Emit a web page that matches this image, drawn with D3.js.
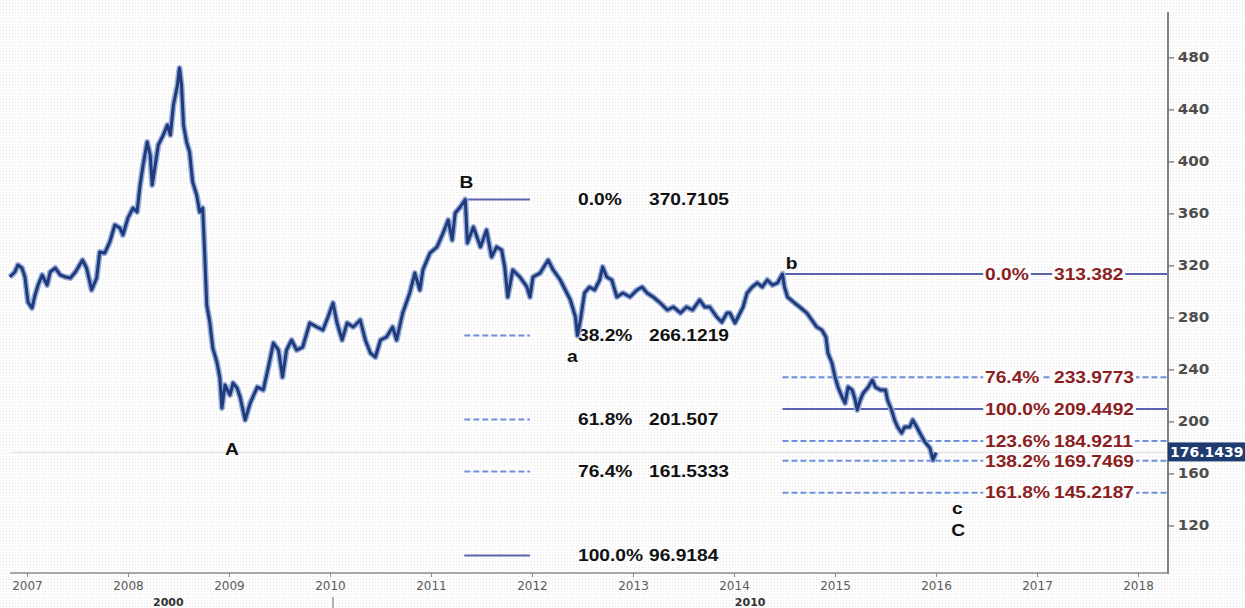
<!DOCTYPE html>
<html><head><meta charset="utf-8">
<script src="https://cdn.jsdelivr.net/npm/d3@7/dist/d3.min.js"></script>
<style>body{margin:0;background:#fff}svg{display:block}</style>
</head><body>
<svg id="c" width="1245" height="608"></svg>
<script>
// ---------- data ----------
const dates = [2006.83,2006.88,2006.91,2006.95,2006.98,2007.01,2007.05,2007.08,2007.11,2007.15,2007.20,2007.23,2007.28,2007.33,2007.38,2007.43,2007.48,2007.55,2007.59,2007.64,2007.69,2007.72,2007.77,2007.82,2007.87,2007.92,2007.95,2008.00,2008.05,2008.09,2008.12,2008.15,2008.19,2008.22,2008.24,2008.27,2008.30,2008.35,2008.39,2008.42,2008.45,2008.49,2008.51,2008.53,2008.55,2008.58,2008.61,2008.64,2008.68,2008.71,2008.74,2008.76,2008.78,2008.81,2008.84,2008.88,2008.91,2008.93,2008.96,2009.01,2009.04,2009.08,2009.11,2009.16,2009.21,2009.28,2009.34,2009.39,2009.44,2009.49,2009.53,2009.57,2009.62,2009.67,2009.73,2009.80,2009.87,2009.93,2009.98,2010.03,2010.07,2010.12,2010.17,2010.23,2010.30,2010.35,2010.40,2010.45,2010.50,2010.56,2010.62,2010.66,2010.72,2010.79,2010.84,2010.89,2010.92,2010.99,2011.06,2011.12,2011.17,2011.21,2011.24,2011.29,2011.34,2011.36,2011.42,2011.49,2011.55,2011.60,2011.65,2011.70,2011.73,2011.76,2011.81,2011.88,2011.95,2011.98,2012.01,2012.08,2012.16,2012.21,2012.28,2012.33,2012.38,2012.43,2012.45,2012.48,2012.52,2012.57,2012.62,2012.67,2012.70,2012.74,2012.79,2012.84,2012.90,2012.97,2013.04,2013.09,2013.14,2013.20,2013.27,2013.34,2013.40,2013.47,2013.53,2013.59,2013.66,2013.71,2013.76,2013.83,2013.88,2013.93,2013.96,2014.01,2014.04,2014.09,2014.13,2014.18,2014.23,2014.28,2014.33,2014.38,2014.43,2014.48,2014.50,2014.53,2014.60,2014.65,2014.72,2014.77,2014.82,2014.87,2014.91,2014.93,2014.97,2015.00,2015.03,2015.07,2015.10,2015.13,2015.17,2015.20,2015.22,2015.25,2015.28,2015.33,2015.37,2015.40,2015.45,2015.50,2015.52,2015.56,2015.59,2015.62,2015.66,2015.69,2015.74,2015.77,2015.81,2015.84,2015.89,2015.94,2015.97,2016.00];
const prices = [311.1,314.9,320.3,318.0,311.1,291.8,287.2,297.2,304.9,312.6,304.9,314.9,318.0,312.6,311.1,310.3,314.9,324.1,318.0,301.1,310.3,330.3,329.5,338.0,351.1,348.8,343.4,356.5,364.1,361.1,381.8,397.2,414.9,404.9,381.8,397.2,412.6,420.3,428.0,420.3,443.4,458.8,471.8,458.8,428.0,414.9,407.2,384.2,374.2,361.1,364.1,328.0,289.5,276.4,256.4,245.7,233.4,210.3,228.0,220.3,229.5,225.7,218.8,201.1,214.1,226.4,224.2,241.8,260.3,254.9,234.1,254.9,262.6,254.9,257.2,275.7,272.6,270.3,280.3,291.1,275.7,262.6,275.7,272.6,278.0,262.6,252.6,249.5,262.6,264.9,272.6,262.6,283.4,298.8,314.1,301.1,316.5,329.5,334.2,344.9,354.9,339.5,360.3,364.9,370.7,337.2,349.5,334.2,347.2,326.4,334.2,331.8,318.8,295.7,316.5,311.1,303.4,295.7,311.1,314.1,324.1,316.5,308.8,301.1,293.4,280.3,266.1,278.0,298.8,303.4,301.1,308.8,318.8,311.1,308.8,295.7,298.8,295.7,301.1,303.4,298.8,295.7,291.1,285.7,288.0,283.4,288.0,285.7,293.4,288.0,288.0,280.3,276.4,283.4,283.4,275.7,280.3,288.0,298.8,303.4,306.5,303.4,308.8,304.9,306.5,313.4,303.4,295.7,291.1,288.0,283.4,278.0,272.6,270.3,264.9,252.6,244.9,234.2,226.4,218.8,214.1,226.4,224.2,216.5,208.8,216.5,221.8,226.4,231.8,226.4,224.2,224.2,216.5,208.8,201.1,195.7,191.1,195.7,195.7,201.1,195.7,191.1,184.2,179.5,170.3,176.1];

const yTicks = [120,160,200,240,280,320,360,400,440,480];
const xTicks = [2007,2008,2009,2010,2011,2012,2013,2014,2015,2016,2017,2018];
const decadeLabels = ["2000","2010"];
const decadePos = [2008.40, 2014.16];
const decadeTick = 2010.03;
const lastPrice = 176.1439;

const fibLeftPct = ["0.0%","38.2%","61.8%","76.4%","100.0%"];
const fibLeftVal = [370.7105,266.1219,201.507,161.5333,96.9184];
const fibLeftText = ["370.7105","266.1219","201.507","161.5333","96.9184"];
const fibLeftDash = [false,true,true,true,false];
const fibLeftSpan = [2011.33, 2011.98];

const fibRightPct = ["0.0%","76.4%","100.0%","123.6%","138.2%","161.8%"];
const fibRightVal = [313.382,233.9773,209.4492,184.9211,169.7469,145.2187];
const fibRightText = ["313.382","233.9773","209.4492","184.9211","169.7469","145.2187"];
const fibRightDash = [false,true,false,true,true,true];
const fibRightStart = 2014.48;

const waveLabels = ["A","B","a","b","c","C"];
const waveX = [2009.03,2011.35,2012.40,2014.57,2016.21,2016.22];
const waveY = [178.8,384.2,250.3,321.8,133.4,116.5];

// ---------- drawing ----------
const W = 1245, H = 608;
const svg = d3.select("#c");
const x = d3.scaleLinear().domain([2006.832, 2018.297]).range([10, 1168]);
const y = d3.scaleLinear().domain([83.4, 514.9]).range([573, 12]);
const axX = x.range()[1], axY = y.range()[0];

const defs = svg.append("defs");
const pat = defs.append("pattern").attr("id","dots").attr("width",3).attr("height",3).attr("patternUnits","userSpaceOnUse");
pat.append("rect").attr("width",3).attr("height",3).attr("fill","#fdfdfd");
pat.append("rect").attr("width",1).attr("height",1).attr("fill","#e8e8e8");
svg.append("rect").attr("width",W).attr("height",H).attr("fill","url(#dots)");

// current price guide
svg.append("line").attr("x1",x.range()[0]).attr("x2",axX).attr("y1",y(lastPrice)).attr("y2",y(lastPrice))
  .attr("stroke","#e0e0e0").attr("stroke-width",1);

const FONT = "'Liberation Sans', Arial, sans-serif";
const solidCol = "#5b62b0", dashCol = "#6f8fdc";

// left fib
fibLeftVal.forEach((v,i)=>{
  svg.append("line").attr("x1",x(fibLeftSpan[0])).attr("x2",x(fibLeftSpan[1]))
    .attr("y1",y(v)).attr("y2",y(v))
    .attr("stroke",fibLeftDash[i]?dashCol:solidCol).attr("stroke-width",2)
    .attr("stroke-dasharray",fibLeftDash[i]?"6,3":null);
  const g1 = svg.append("g").attr("transform",`translate(${x(fibLeftSpan[1])+48},${y(v)}) scale(1.2,1)`);
  g1.append("text").text(fibLeftPct[i]).attr("dy","0.36em")
    .attr("font-family",FONT).attr("font-weight","bold").attr("font-size",16).attr("fill","#111");
  const g2 = svg.append("g").attr("transform",`translate(${x(fibLeftSpan[1])+119},${y(v)}) scale(1.2,1)`);
  g2.append("text").text(fibLeftText[i]).attr("dy","0.36em")
    .attr("font-family",FONT).attr("font-weight","bold").attr("font-size",16).attr("fill","#111");
});

// right fib
fibRightVal.forEach((v,i)=>{
  svg.append("line").attr("x1",x(fibRightStart)).attr("x2",axX)
    .attr("y1",y(v)).attr("y2",y(v))
    .attr("stroke",fibRightDash[i]?dashCol:solidCol).attr("stroke-width",2)
    .attr("stroke-dasharray",fibRightDash[i]?"6,3":null);
  [[fibRightPct[i], axX-183],[fibRightText[i], axX-114]].forEach(([t,px])=>{
    const g = svg.append("g").attr("transform",`translate(${px},${y(v)}) scale(1.2,1)`);
    const bg = g.append("rect").attr("fill","#fcfcfc");
    const tx = g.append("text").text(t).attr("dy","0.36em")
      .attr("font-family",FONT).attr("font-weight","bold").attr("font-size",16).attr("fill","#8b1e1e");
    const b = tx.node().getBBox();
    bg.attr("x",b.x-1.5).attr("y",b.y+1).attr("width",b.width+3).attr("height",b.height-2);
  });
});

// price series
const line = d3.line().x((d,i)=>x(dates[i])).y(d=>y(d));
svg.append("path").datum(prices).attr("d",line).attr("fill","none")
  .attr("stroke","#9aaedb").attr("stroke-width",6).attr("stroke-linejoin","round");
svg.append("path").datum(prices).attr("d",line).attr("fill","none")
  .attr("stroke","#1f3b79").attr("stroke-width",3).attr("stroke-linejoin","round");

// wave labels
waveLabels.forEach((t,i)=>{
  svg.append("g").attr("transform",`translate(${x(waveX[i])},${y(waveY[i])}) scale(1.2,1)`)
    .append("text").text(t).attr("text-anchor","middle").attr("dy","0.36em")
    .attr("font-family",FONT).attr("font-weight","bold").attr("font-size",16).attr("fill","#111");
});

// right axis
const ya = svg.append("g").attr("transform",`translate(${axX},0)`)
  .call(d3.axisRight(y).tickValues(yTicks).tickSize(6).tickPadding(3));
ya.select(".domain").remove();
ya.selectAll(".tick line").attr("stroke","#777").attr("stroke-width",1.3);
ya.selectAll(".tick text").attr("font-family","'DejaVu Sans', Verdana, sans-serif")
  .attr("font-weight","bold").attr("font-size",14).attr("fill","#4d4d4d")
  .attr("transform","scale(1.08,1)");
svg.append("line").attr("x1",axX).attr("x2",axX).attr("y1",y.range()[1]).attr("y2",axY+1)
  .attr("stroke","#808080").attr("stroke-width",2);

// bottom axis
const xa = svg.append("g").attr("transform",`translate(0,${axY})`)
  .call(d3.axisBottom(x).tickValues(xTicks).tickFormat(d3.format("d")).tickSize(4).tickPadding(4));
xa.select(".domain").remove();
xa.selectAll(".tick line").attr("stroke","#888");
xa.selectAll(".tick text").attr("font-family","'DejaVu Sans', Verdana, sans-serif")
  .attr("font-size",12).attr("fill","#5a5a5a");
svg.append("line").attr("x1",x.range()[0]).attr("x2",axX+1).attr("y1",axY).attr("y2",axY)
  .attr("stroke","#8a8a8a").attr("stroke-width",1.6);

// decade labels
decadeLabels.forEach((t,i)=>{
  svg.append("text").text(t).attr("x",x(decadePos[i])).attr("y",606).attr("text-anchor","middle")
    .attr("font-family","'DejaVu Sans', Verdana, sans-serif").attr("font-weight","bold")
    .attr("font-size",11).attr("fill","#333");
});
svg.append("line").attr("x1",x(decadeTick)).attr("x2",x(decadeTick)).attr("y1",597).attr("y2",H)
  .attr("stroke","#666").attr("stroke-width",1);

// last price tag
const tagY = y(lastPrice);
svg.append("rect").attr("x",axX).attr("y",tagY-10).attr("width",W-axX).attr("height",19).attr("fill","#1f3c70");
svg.append("text").text(lastPrice.toFixed(4)).attr("x",axX+2).attr("y",tagY).attr("dy","0.36em")
  .attr("font-family","'DejaVu Sans', Verdana, sans-serif").attr("font-weight","bold")
  .attr("font-size",14).attr("fill","#fff");
</script>
</body></html>
